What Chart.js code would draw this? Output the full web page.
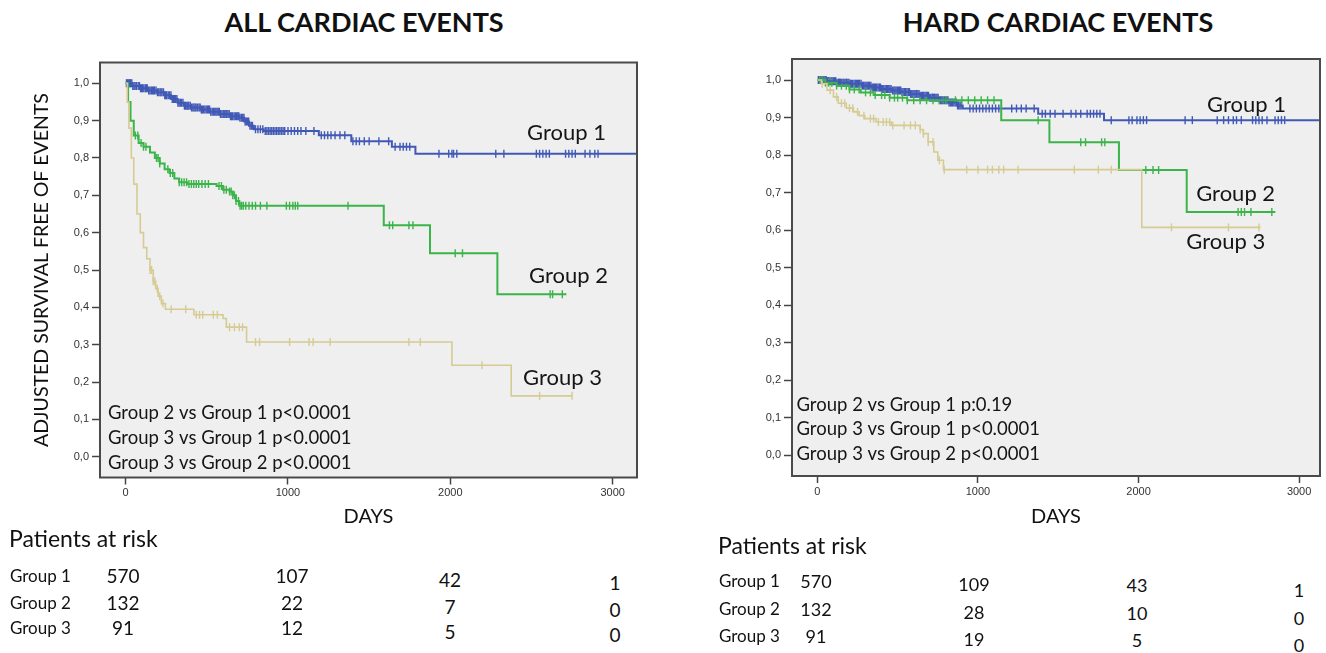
<!DOCTYPE html>
<html>
<head>
<meta charset="utf-8">
<script src="https://cdn.jsdelivr.net/npm/chart.js@4.4.1/dist/chart.umd.min.js"></script>
<style>
	body { margin: 0; background: #fff; width: 1326px; height: 653px; position: relative; overflow: hidden; font-family: Lato, "Open Sans", sans-serif; color: #111; }
	.box { position: absolute; }
	.title { position: absolute; top: 6px; font-weight: bold; font-size: 27px; line-height: 32px; white-space: nowrap; transform: translateX(-50%); }
	.cell { position: absolute; white-space: nowrap; transform: translateY(-50%); line-height: 20px; }
</style>
</head>
<body>
<div class="title" style="left:364px">ALL CARDIAC EVENTS</div>
<div class="title" style="left:1058px">HARD CARDIAC EVENTS</div>
<div class="box" style="left:0;top:0;width:660px;height:540px"><canvas id="allChart"></canvas></div>
<div class="box" style="left:700px;top:0;width:626px;height:540px"><canvas id="hardChart"></canvas></div>
<div id="riskAll"></div>
<div id="riskHard"></div>
<script>
// ---- axis ticks ----
const dayTicks = [0, 1000, 2000, 3000];
const survTicks = [0, 0.1, 0.2, 0.3, 0.4, 0.5, 0.6, 0.7, 0.8, 0.9, 1.0];
const groupNames = ["Group 1", "Group 2", "Group 3"];

// ---- ALL CARDIAC EVENTS: step points (day, survival) ----
const allG1Days = [0, 40, 90, 140, 190, 240, 280, 320, 360, 400, 460, 520, 580, 640, 700, 730, 760, 790, 850, 1190, 1390, 1640, 1785, 3150];
const allG1Surv = [1.0, 0.993, 0.987, 0.981, 0.976, 0.968, 0.958, 0.948, 0.94, 0.935, 0.93, 0.924, 0.918, 0.912, 0.908, 0.898, 0.886, 0.877, 0.872, 0.861, 0.845, 0.83, 0.811, 0.811];
const allG2Days = [0, 15, 30, 50, 80, 110, 150, 180, 210, 240, 270, 300, 330, 380, 560, 600, 640, 660, 680, 700, 1590, 1875, 2290, 2715];
const allG2Surv = [1.0, 0.95, 0.9, 0.86, 0.84, 0.83, 0.815, 0.8, 0.785, 0.77, 0.76, 0.745, 0.735, 0.73, 0.725, 0.715, 0.71, 0.7, 0.685, 0.672, 0.62, 0.545, 0.435, 0.435];
const allG3Days = [0, 10, 20, 35, 50, 70, 90, 110, 130, 150, 170, 185, 200, 220, 245, 420, 600, 620, 745, 2010, 2375, 2750];
const allG3Surv = [1.0, 0.95, 0.88, 0.8, 0.73, 0.65, 0.6, 0.56, 0.53, 0.5, 0.47, 0.45, 0.43, 0.41, 0.395, 0.38, 0.37, 0.347, 0.307, 0.245, 0.163, 0.163];

// censored observations (days)
const allG1Censor = [5, 10, 16, 22, 27, 31, 38, 44, 51, 58, 66, 77, 85, 92, 98, 104, 112, 121, 127, 133, 142, 150, 158, 166, 172, 178, 187, 196, 204, 212, 218, 224, 233, 241, 247, 253, 262, 270, 279, 287, 294, 300, 308, 316, 322, 329, 337, 344, 353, 362, 370, 377, 383, 389, 398, 406, 414, 421, 428, 434, 443, 452, 459, 466, 472, 479, 488, 496, 504, 511, 517, 524, 533, 541, 549, 556, 563, 570, 577, 584, 593, 601, 607, 613, 622, 630, 638, 646, 652, 659, 668, 676, 684, 691, 697, 704, 713, 721, 729, 736, 743, 750, 758, 766, 774, 781,
	800, 815, 830, 845, 860, 870, 880, 890, 900, 910, 920, 930, 940, 950, 960, 970, 980, 1000, 1020, 1040, 1060, 1080, 1110, 1160, 1205, 1225, 1245, 1265, 1290, 1320, 1350, 1400, 1420, 1440, 1470, 1500, 1560, 1620, 1660, 1690, 1710, 1730, 1750,
	1930, 1990, 2010, 2020, 2040, 2280, 2330, 2530, 2550, 2570, 2590, 2610, 2710, 2730, 2750, 2770, 2830, 2860, 2890, 2910, 3150];
const allG2Censor = [60, 75, 95, 110, 125, 190, 200, 210, 260, 275, 290, 330, 345, 360, 375, 390, 405, 420, 435, 450, 470, 490, 510, 575, 590, 605, 620, 640, 650, 660, 670, 680, 695, 705, 715, 725, 740, 760, 780, 800, 830, 870, 990, 1010, 1030, 1045, 1060, 1370, 1625, 1645, 1745, 1770, 2030, 2075, 2615, 2630, 2690];
const allG3Censor = [150, 160, 170, 180, 195, 210, 230, 280, 370, 435, 455, 475, 540, 565, 640, 670, 700, 720, 800, 825, 1010, 1130, 1155, 1260, 1745, 1815, 2195, 2550, 2750];

// ---- HARD CARDIAC EVENTS ----
const hardG1Days = [0, 60, 120, 200, 280, 340, 400, 460, 520, 580, 640, 700, 760, 820, 870, 905, 1375, 1785, 3130];
const hardG1Surv = [1.0, 0.997, 0.993, 0.99, 0.985, 0.98, 0.976, 0.972, 0.968, 0.963, 0.958, 0.953, 0.946, 0.94, 0.932, 0.924, 0.91, 0.893, 0.893];
const hardG2Days = [0, 50, 120, 200, 270, 350, 450, 560, 1145, 1445, 1878, 2300, 2852];
const hardG2Surv = [1.0, 0.993, 0.985, 0.975, 0.967, 0.96, 0.953, 0.946, 0.893, 0.834, 0.76, 0.648, 0.648];
const hardG3Days = [0, 25, 60, 100, 130, 180, 225, 260, 295, 365, 460, 640, 660, 690, 725, 750, 785, 2020, 2760];
const hardG3Surv = [1.0, 0.99, 0.973, 0.955, 0.938, 0.925, 0.915, 0.905, 0.897, 0.888, 0.879, 0.868, 0.857, 0.835, 0.808, 0.786, 0.761, 0.607, 0.607];

const hardG1Censor = [6, 12, 20, 27, 34, 41, 48, 55, 63, 70, 78, 86, 92, 99, 107, 114, 122, 131, 137, 144, 152, 160, 166, 173, 182, 190, 197, 205, 212, 219, 228, 236, 243, 250, 256, 263, 272, 280, 288, 296, 303, 310, 317, 324, 333, 341, 348, 355, 362, 369, 378, 386, 393, 400, 407, 414, 422, 430, 438, 445, 452, 459, 468, 476, 483, 490, 498, 505, 512, 519, 527, 534, 542, 550, 558, 566, 573, 580, 588, 595, 602, 609, 618, 626, 633, 640, 648, 655, 662, 670, 678, 685, 692, 700, 708, 716, 723, 730, 738, 745, 752, 760, 768, 775, 782, 790, 798, 806, 813, 820, 828, 835, 842, 850, 858, 866, 873, 880, 888, 895,
	950, 970, 990, 1010, 1030, 1050, 1070, 1090, 1110, 1130, 1210, 1240, 1270, 1300, 1350, 1400, 1420, 1450, 1480, 1530, 1580, 1610, 1640, 1680, 1700, 1720, 1740, 1760,
	1830, 1940, 1960, 1990, 2010, 2030, 2050, 2290, 2335, 2490, 2530, 2560, 2590, 2610, 2640, 2710, 2730, 2750, 2770, 2800, 2850, 2870, 2890, 2910, 3130];
const hardG2Censor = [15, 30, 50, 70, 90, 120, 150, 180, 200, 230, 260, 300, 330, 360, 400, 420, 450, 480, 500, 530, 560, 600, 640, 680, 720, 760, 800, 860, 900, 940, 980, 1020, 1060, 1100, 1375, 1640, 1670, 1770, 1790, 2045, 2090, 2125, 2620, 2640, 2660, 2700, 2830];
const hardG3Censor = [30, 80, 120, 150, 170, 200, 220, 250, 290, 330, 350, 380, 410, 430, 450, 470, 540, 580, 610, 640, 660, 690, 720, 760, 790, 930, 1000, 1060, 1090, 1130, 1160, 1250, 1600, 1750, 1830, 2205, 2560, 2750];

// ---- patients at risk ----
const riskAll = [[570, 107, 42, 1], [132, 22, 7, 0], [91, 12, 5, 0]];
const riskHard = [[570, 109, 43, 1], [132, 28, 10, 0], [91, 19, 5, 0]];

const blue = "#4159b6";
const green = "#3bb449";
const tan = "#d5cb93";

function survivalAt(days, surv, t) {
	let s = surv[0];
	for (let i = 0; i < days.length; i++) {
		if (days[i] <= t) s = surv[i];
		else break;
	}
	return s;
}

function curve(days, surv, color, width) {
	return {
		data: days.map((d, i) => ({ x: d, y: surv[i] })),
		borderColor: color,
		borderWidth: width,
		stepped: "before",
		pointRadius: 0,
		fill: false,
	};
}

function censorMarks(days, surv, censor, color) {
	return {
		data: censor.map((t) => ({ x: t, y: survivalAt(days, surv, t) })),
		showLine: false,
		pointStyle: "line",
		rotation: 90,
		pointRadius: 4,
		pointBorderWidth: 1.4,
		pointBorderColor: color,
		pointBackgroundColor: color,
	};
}

const framePlugin = {
	id: "frame",
	beforeDraw(chart) {
		const { ctx, chartArea: a } = chart;
		ctx.save();
		ctx.fillStyle = "#efefef";
		ctx.fillRect(a.left, a.top, a.right - a.left, a.bottom - a.top);
		ctx.restore();
	},
	afterDraw(chart, args, opts) {
		const { ctx, chartArea: a, scales } = chart;
		ctx.save();
		ctx.strokeStyle = "#4a4a4a";
		ctx.lineWidth = 2;
		ctx.strokeRect(a.left, a.top, a.right - a.left, a.bottom - a.top);
		ctx.fillStyle = "#151515";
		ctx.textAlign = "left";
		ctx.textBaseline = "middle";
		(opts.notes || []).forEach((n) => {
			ctx.font = n.size + "px Lato";
			ctx.fillText(n.text, scales.x.getPixelForValue(n.x), scales.y.getPixelForValue(n.y));
		});
		ctx.restore();
	},
};

function buildChart(id, datasets, cfg) {
	const tickFont = { family: "'Liberation Sans', Arial", size: 11 };
	return new Chart(document.getElementById(id), {
		type: "line",
		data: { datasets: datasets },
		plugins: [framePlugin],
		options: {
			responsive: true,
			maintainAspectRatio: false,
			animation: false,
			layout: { padding: cfg.padding },
			plugins: {
				legend: { display: false },
				tooltip: { enabled: false },
				frame: { notes: cfg.notes },
			},
			scales: {
				x: {
					type: "linear",
					min: cfg.xMin,
					max: cfg.xMax,
					afterBuildTicks: (s) => { s.ticks = dayTicks.map((v) => ({ value: v })); },
					afterFit: (s) => { s.height = cfg.xHeight; },
					grid: { drawOnChartArea: false, tickLength: 7, tickColor: "#444", tickWidth: 1.5 },
					border: { display: false },
					ticks: { padding: 2, color: "#333", font: tickFont, maxRotation: 0, autoSkip: false, callback: (v) => String(v) },
					title: { display: true, text: "DAYS", color: "#111", font: { family: "Lato", size: 20 }, padding: { top: 0, bottom: 11 } },
				},
				y: {
					min: cfg.yMin,
					max: cfg.yMax,
					afterBuildTicks: (s) => { s.ticks = survTicks.map((v) => ({ value: v })); },
					afterFit: (s) => { s.width = cfg.yWidth; },
					grid: { drawOnChartArea: false, tickLength: 8, tickColor: "#444", tickWidth: 1.5 },
					border: { display: false },
					ticks: { padding: 3, color: "#333", font: tickFont, callback: (v) => v.toFixed(1).replace(".", ",") },
					title: cfg.yTitle
						? { display: true, text: cfg.yTitle, color: "#111", font: { family: "Lato", size: 19.5 }, padding: { top: 30.3, bottom: 0 } }
						: { display: false },
				},
			},
		},
	});
}

buildChart("allChart", [
	curve(allG3Days, allG3Surv, tan, 1.6),
	curve(allG2Days, allG2Surv, green, 2),
	curve(allG1Days, allG1Surv, blue, 2),
	censorMarks(allG3Days, allG3Surv, allG3Censor, tan),
	censorMarks(allG2Days, allG2Surv, allG2Censor, green),
	censorMarks(allG1Days, allG1Surv, allG1Censor, blue),
], {
	padding: { top: 62.5, right: 23, bottom: 0, left: 0 },
	xMin: -158, xMax: 3150, yMin: -0.0557, yMax: 1.0557,
	xHeight: 62.5, yWidth: 100,
	yTitle: "ADJUSTED SURVIVAL FREE OF EVENTS",
	notes: [
		{ text: groupNames[0], x: 2473, y: 0.867, size: 22 },
		{ text: groupNames[1], x: 2485, y: 0.483, size: 22 },
		{ text: groupNames[2], x: 2448, y: 0.21, size: 22 },
		{ text: "Group 2 vs Group 1 p<0.0001", x: -109, y: 0.116, size: 18.5 },
		{ text: "Group 3 vs Group 1 p<0.0001", x: -109, y: 0.049, size: 18.5 },
		{ text: "Group 3 vs Group 2 p<0.0001", x: -109, y: -0.017, size: 18.5 },
	],
});

buildChart("hardChart", [
	curve(hardG3Days, hardG3Surv, tan, 1.6),
	curve(hardG2Days, hardG2Surv, green, 2),
	curve(hardG1Days, hardG1Surv, blue, 2),
	censorMarks(hardG3Days, hardG3Surv, hardG3Censor, tan),
	censorMarks(hardG2Days, hardG2Surv, hardG2Censor, green),
	censorMarks(hardG1Days, hardG1Surv, hardG1Censor, blue),
], {
	padding: { top: 59, right: 6, bottom: 0, left: 0 },
	xMin: -158, xMax: 3130, yMin: -0.056, yMax: 1.056,
	xHeight: 64, yWidth: 92,
	yTitle: null,
	notes: [
		{ text: groupNames[0], x: 2427, y: 0.933, size: 22 },
		{ text: groupNames[1], x: 2359, y: 0.696, size: 22 },
		{ text: groupNames[2], x: 2297, y: 0.568, size: 22 },
		{ text: "Group 2 vs Group 1 p:0.19", x: -130, y: 0.133, size: 18.5 },
		{ text: "Group 3 vs Group 1 p<0.0001", x: -130, y: 0.069, size: 18.5 },
		{ text: "Group 3 vs Group 2 p<0.0001", x: -130, y: 0.003, size: 18.5 },
	],
});

// patients-at-risk tables (HTML text)
function riskTable(el, rows, layout) {
	let html = `<div class="cell" style="left:${layout.headX}px;top:${layout.headY}px;font-size:23px">Patients at risk</div>`;
	rows.forEach((row, r) => {
		const y = layout.rowY[r];
		html += `<div class="cell" style="left:${layout.labelX}px;top:${y}px;font-size:17px">${groupNames[r]}</div>`;
		row.forEach((n, c) => {
			html += `<div class="cell" style="left:${layout.colX[c]}px;top:${y + layout.colDy[c]}px;font-size:${layout.numSize}px;transform:translate(-50%,-50%)">${n}</div>`;
		});
	});
	document.getElementById(el).innerHTML = html;
}

riskTable("riskAll", riskAll, { headX: 9, headY: 538, labelX: 10, rowY: [576, 603, 628], colX: [123, 292, 450, 615], colDy: [0, 0, 4, 7], numSize: 19 });
riskTable("riskHard", riskHard, { headX: 718, headY: 545, labelX: 719, rowY: [581, 609, 636], colX: [816, 974, 1137, 1299], colDy: [0, 3, 4, 9], numSize: 18 });
</script>
</body>
</html>
